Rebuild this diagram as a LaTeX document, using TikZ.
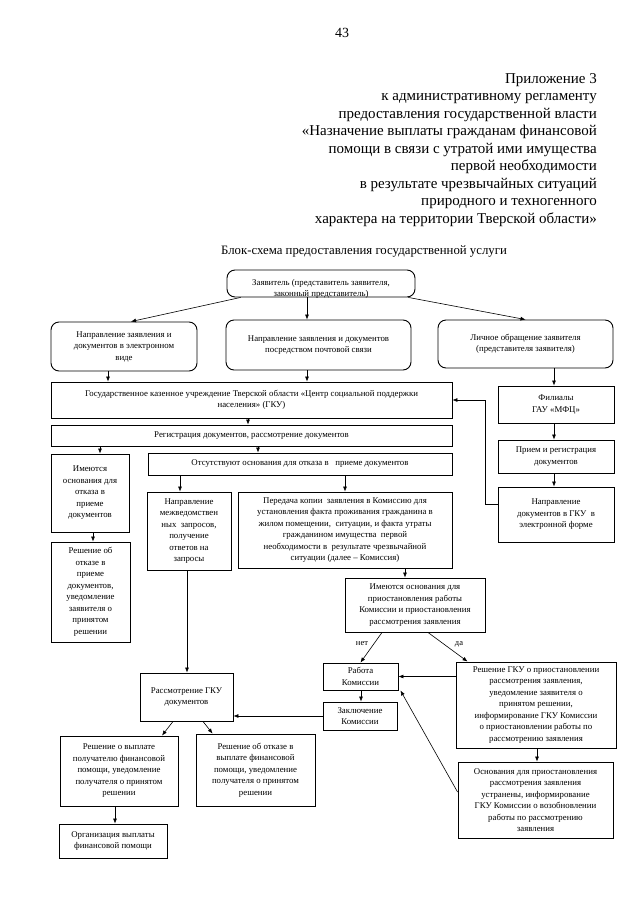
\documentclass[tikz,border=0pt]{standalone}
\usepackage{fontspec}
\setmainfont{Liberation Serif}
\usepackage{tikz}
\usetikzlibrary{arrows.meta,calc}
\newcommand{\boxfont}{\fontsize{8.8}{11.5}\selectfont}
\tikzset{
  roundbox/.style={rectangle, rounded corners=8pt, draw, line width=0.9pt, align=center, inner sep=1pt, font=\boxfont},
  plainbox/.style={rectangle, draw, line width=0.9pt, align=center, inner sep=1pt, font=\boxfont},
  arrow/.style={->, >={Latex[length=5pt,width=4pt]}, line width=0.6pt},
  marklabel/.style={font=\fontsize{8.5}{9}\selectfont, inner sep=0pt}
}

\begin{document}
\begin{tikzpicture}[x=1pt,y=-1pt]
\path[use as bounding box, fill=white] (0,0) rectangle (640,905);

% header
\node[anchor=base, font=\fontsize{14}{16}\selectfont] (pagenum) at (342,37) {43};
\node[anchor=north east, align=right, inner sep=0pt, font=\fontsize{15}{17.5}\selectfont] (appendix) at (597,73)
  {Приложение 3\\ к административному регламенту\\ предоставления государственной власти\\
   «Назначение выплаты гражданам финансовой\\ помощи в связи с утратой ими имущества\\
   первой необходимости\\ в результате чрезвычайных ситуаций\\ природного и техногенного\\
   характера на территории Тверской области»};
\node[anchor=base, font=\fontsize{12.8}{14}\selectfont] (title) at (364,254) {Блок-схема предоставления государственной услуги};

% applicant (second line cut by the frame)
\node[roundbox, minimum width=188, minimum height=27] (zayav) at (321,283.5) {};
\begin{scope}
\clip[rounded corners=8pt] (zayav.south west) rectangle (zayav.north east);
\node[font=\boxfont, align=center, inner sep=0pt] (zayavtext) at (321,289) {Заявитель (представитель заявителя,\\ законный представитель)};
\end{scope}

% ways of applying
\node[roundbox, minimum width=146, minimum height=49] (elec) at (124,346.5) {Направление заявления и\\ документов в электронном\\ виде};
\node[roundbox, minimum width=185, minimum height=50] (post) at (318.5,345) {Направление заявления и документов\\ посредством почтовой связи};
\node[roundbox, minimum width=175, minimum height=48] (lich) at (525.5,344) {Личное обращение заявителя\\ (представителя заявителя)};

% GKU branch
\node[plainbox, minimum width=401, minimum height=36] (gku) at (251.5,400) {Государственное казенное учреждение Тверской области «Центр социальной поддержки\\ населения» (ГКУ)};
\node[plainbox, minimum width=401, minimum height=21] (reg) at (251.5,435.5) {Регистрация документов, рассмотрение документов};
\node[plainbox, minimum width=78, minimum height=78] (imeyut) at (90,493) {Имеются\\ основания для\\ отказа в\\ приеме\\ документов};
\node[plainbox, minimum width=304, minimum height=22] (otsut) at (300,464) {Отсутствуют основания для отказа в \ \ приеме документов};
\node[plainbox, minimum width=79, minimum height=100] (otkaz) at (90.5,592) {Решение об\\ отказе в\\ приеме\\ документов,\\ уведомление\\ заявителя о\\ принятом\\ решении};
\node[plainbox, minimum width=84, minimum height=78] (mezhved) at (189,531) {Направление\\ межведомствен\\ ных \ запросов,\\ получение\\ ответов на\\ запросы};
\node[plainbox, minimum width=214, minimum height=76] (peredacha) at (345,530) {Передача копии \ заявления в Комиссию для\\ установления факта проживания гражданина в\\ жилом помещении, \ ситуации, и факта утраты\\ гражданином имущества \ первой\\ необходимости в \ результате чрезвычайной\\ ситуации (далее – Комиссия)};
\node[plainbox, minimum width=140, minimum height=54] (susp) at (415,605) {Имеются основания для\\ приостановления работы\\ Комиссии и приостановления\\ рассмотрения заявления};

% commission
\node[plainbox, minimum width=75, minimum height=27] (rabota) at (360.5,676.5) {Работа\\ Комиссии};
\node[plainbox, minimum width=74, minimum height=28] (zakl) at (360,716) {Заключение\\ Комиссии};
\node[plainbox, minimum width=160, minimum height=86] (reshGKU) at (536,705) {Решение ГКУ о приостановлении\\ рассмотрения заявления,\\ уведомление заявителя о\\ принятом решении,\\ информирование ГКУ Комиссии\\ о приостановлении работы по\\ рассмотрению заявления};
\node[plainbox, minimum width=155, minimum height=76] (osnov) at (535.5,800) {Основания для приостановления\\ рассмотрения заявления\\ устранены, информирование\\ ГКУ Комиссии о возобновлении\\ работы по рассмотрению\\ заявления};
\node[marklabel] (net) at (362,644) {нет};
\node[marklabel] (da) at (459,644) {да};

% decision
\node[plainbox, minimum width=93, minimum height=48] (rassm) at (186.5,697) {Рассмотрение ГКУ\\ документов};
\node[plainbox, minimum width=118, minimum height=70] (vyplata) at (119,771) {Решение о выплате\\ получателю финансовой\\ помощи, уведомление\\ получателя о принятом\\ решении};
\node[plainbox, minimum width=119, minimum height=72] (otkazV) at (255.5,770) {Решение об отказе в\\ выплате финансовой\\ помощи, уведомление\\ получателя о принятом\\ решении};
\node[plainbox, minimum width=108, minimum height=34] (org) at (113,841) {Организация выплаты\\ финансовой помощи};

% MFC branch
\node[plainbox, minimum width=116, minimum height=37] (filial) at (556,404.5) {Филиалы\\ ГАУ «МФЦ»};
\node[plainbox, minimum width=116, minimum height=33] (priem) at (556,456.5) {Прием и регистрация\\ документов};
\node[plainbox, minimum width=116, minimum height=55] (naprGKU) at (556,514.5) {Направление\\ документов в ГКУ \ в\\ электронной форме};

% straight down arrows
\foreach \x/\a/\b in {307/zayav/post, 108/elec/gku, 307/post/gku, 554/lich/filial, 554/filial/priem,
  554/priem/naprGKU, 248/gku/reg, 100/reg/imeyut, 258/reg/otsut, 93/imeyut/otkaz, 180/otsut/mezhved,
  345/otsut/peredacha, 187/mezhved/rassm, 405/peredacha/susp, 361/rabota/zakl, 537/reshGKU/osnov, 115/vyplata/org}
  \draw[arrow] (\x,0 |- \a.south) -- (\x,0 |- \b.north);

% other arrows
\draw[arrow] ([xshift=14pt]zayav.south west) -- ([xshift=7pt]elec.north);
\draw[arrow] ([xshift=-7pt]zayav.south east) -- (lich.north);
\draw[arrow] ([yshift=10pt]naprGKU.west) -- ++(-12,0) |- (gku.east);
\draw[arrow] ([xshift=-33pt]susp.south) -- (rabota.north);
\draw[arrow] ([xshift=13pt]susp.south) -- ([xshift=12pt]reshGKU.north west);
\draw[arrow] (reshGKU.west |- rabota.east) -- (rabota.east);
\draw[arrow] ([yshift=8pt]osnov.west) -- ([xshift=2pt]rabota.south east);
\draw[arrow] (zakl.west) -- (zakl.west -| rassm.east);
\draw[arrow] ([xshift=-13.5pt]rassm.south) -- ([xshift=43pt]vyplata.north);
\draw[arrow] ([xshift=16.5pt]rassm.south) -- ([xshift=17pt]otkazV.north west);
\end{tikzpicture}
\end{document}
